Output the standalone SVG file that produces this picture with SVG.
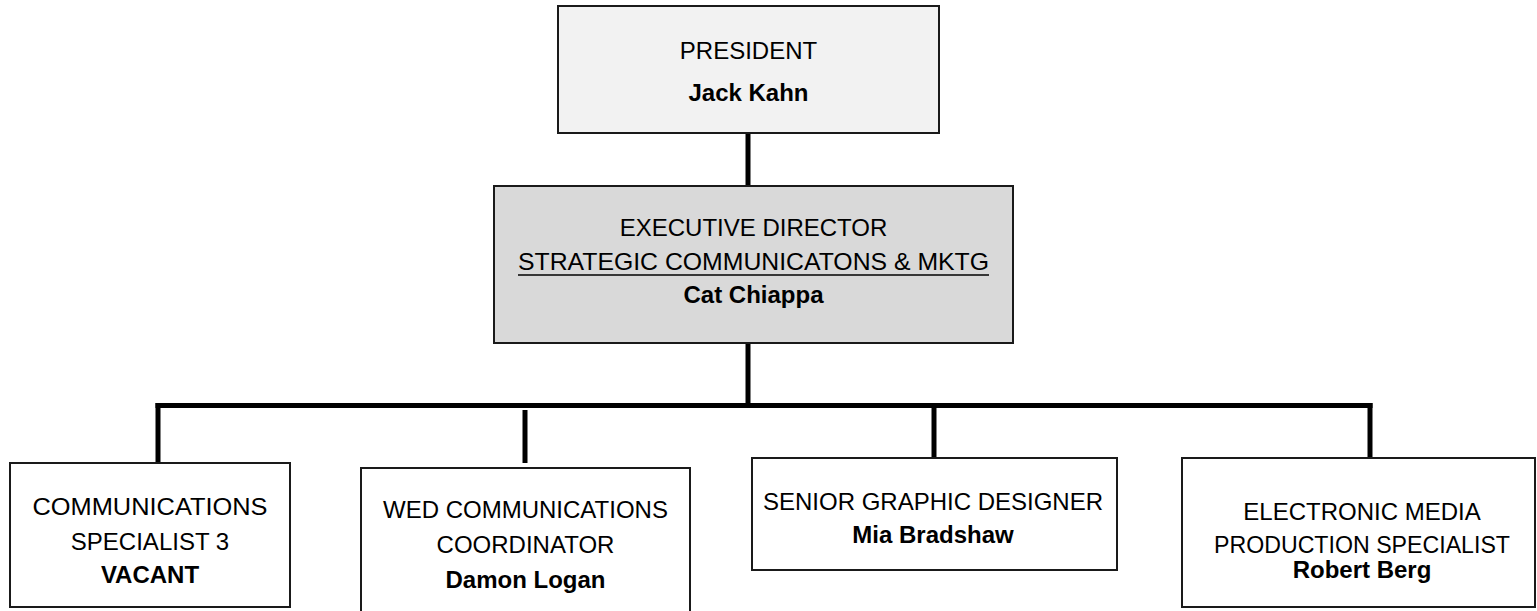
<svg xmlns="http://www.w3.org/2000/svg" width="1537" height="611" viewBox="0 0 1537 611">
<style>
.box{stroke:#1a1a1a;stroke-width:2}
.t{font-family:"Liberation Sans",Arial,sans-serif;font-size:24px;fill:#000;text-anchor:middle}
.b{font-weight:bold}
.conn{stroke:#000;stroke-width:5;fill:none}
</style>
<rect width="1537" height="611" fill="#fff"/>
<g id="connectors">
<line class="conn" x1="748" y1="133" x2="748" y2="186"/>
<line class="conn" x1="748" y1="343" x2="748" y2="405.5"/>
<line class="conn" x1="155.5" y1="405.5" x2="1372.5" y2="405.5"/>
<line class="conn" x1="158" y1="403" x2="158" y2="463"/>
<line class="conn" x1="525" y1="410" x2="525" y2="463"/>
<line class="conn" x1="934" y1="403" x2="934" y2="458"/>
<line class="conn" x1="1370" y1="403" x2="1370" y2="458"/>
</g>
<g id="president">
<rect class="box" x="558" y="6" width="381" height="127" fill="#f2f2f2"/>
<text class="t" x="748.5" y="59">PRESIDENT</text>
<text class="t b" x="748.5" y="101">Jack Kahn</text>
</g>
<g id="executive-director">
<rect class="box" x="494" y="186" width="519" height="157" fill="#d9d9d9"/>
<text class="t" x="753.5" y="236">EXECUTIVE DIRECTOR</text>
<text class="t" x="753.5" y="270" textLength="471" lengthAdjust="spacingAndGlyphs">STRATEGIC COMMUNICATONS &amp; MKTG</text>
<line x1="518" y1="275" x2="989" y2="275" stroke="#000" stroke-width="1.6"/>
<text class="t b" x="753.5" y="303">Cat Chiappa</text>
</g>
<g id="comm-specialist">
<rect class="box" x="10" y="463" width="280" height="144" fill="#fff"/>
<text class="t" x="150" y="515" textLength="235" lengthAdjust="spacingAndGlyphs">COMMUNICATIONS</text>
<text class="t" x="150" y="550">SPECIALIST 3</text>
<text class="t b" x="150" y="583">VACANT</text>
</g>
<g id="wed-coordinator">
<rect class="box" x="361" y="468" width="329" height="160" fill="#fff"/>
<text class="t" x="525.5" y="518">WED COMMUNICATIONS</text>
<text class="t" x="525.5" y="553">COORDINATOR</text>
<text class="t b" x="525.5" y="588">Damon Logan</text>
</g>
<g id="graphic-designer">
<rect class="box" x="752" y="458" width="365" height="112" fill="#fff"/>
<text class="t" x="933" y="510">SENIOR GRAPHIC DESIGNER</text>
<text class="t b" x="933" y="543">Mia Bradshaw</text>
</g>
<g id="media-specialist">
<rect class="box" x="1182" y="458" width="353" height="149" fill="#fff"/>
<text class="t" x="1362" y="520">ELECTRONIC MEDIA</text>
<text class="t" x="1362" y="553" textLength="296" lengthAdjust="spacingAndGlyphs">PRODUCTION SPECIALIST</text>
<text class="t b" x="1362" y="578">Robert Berg</text>
</g>
</svg>
